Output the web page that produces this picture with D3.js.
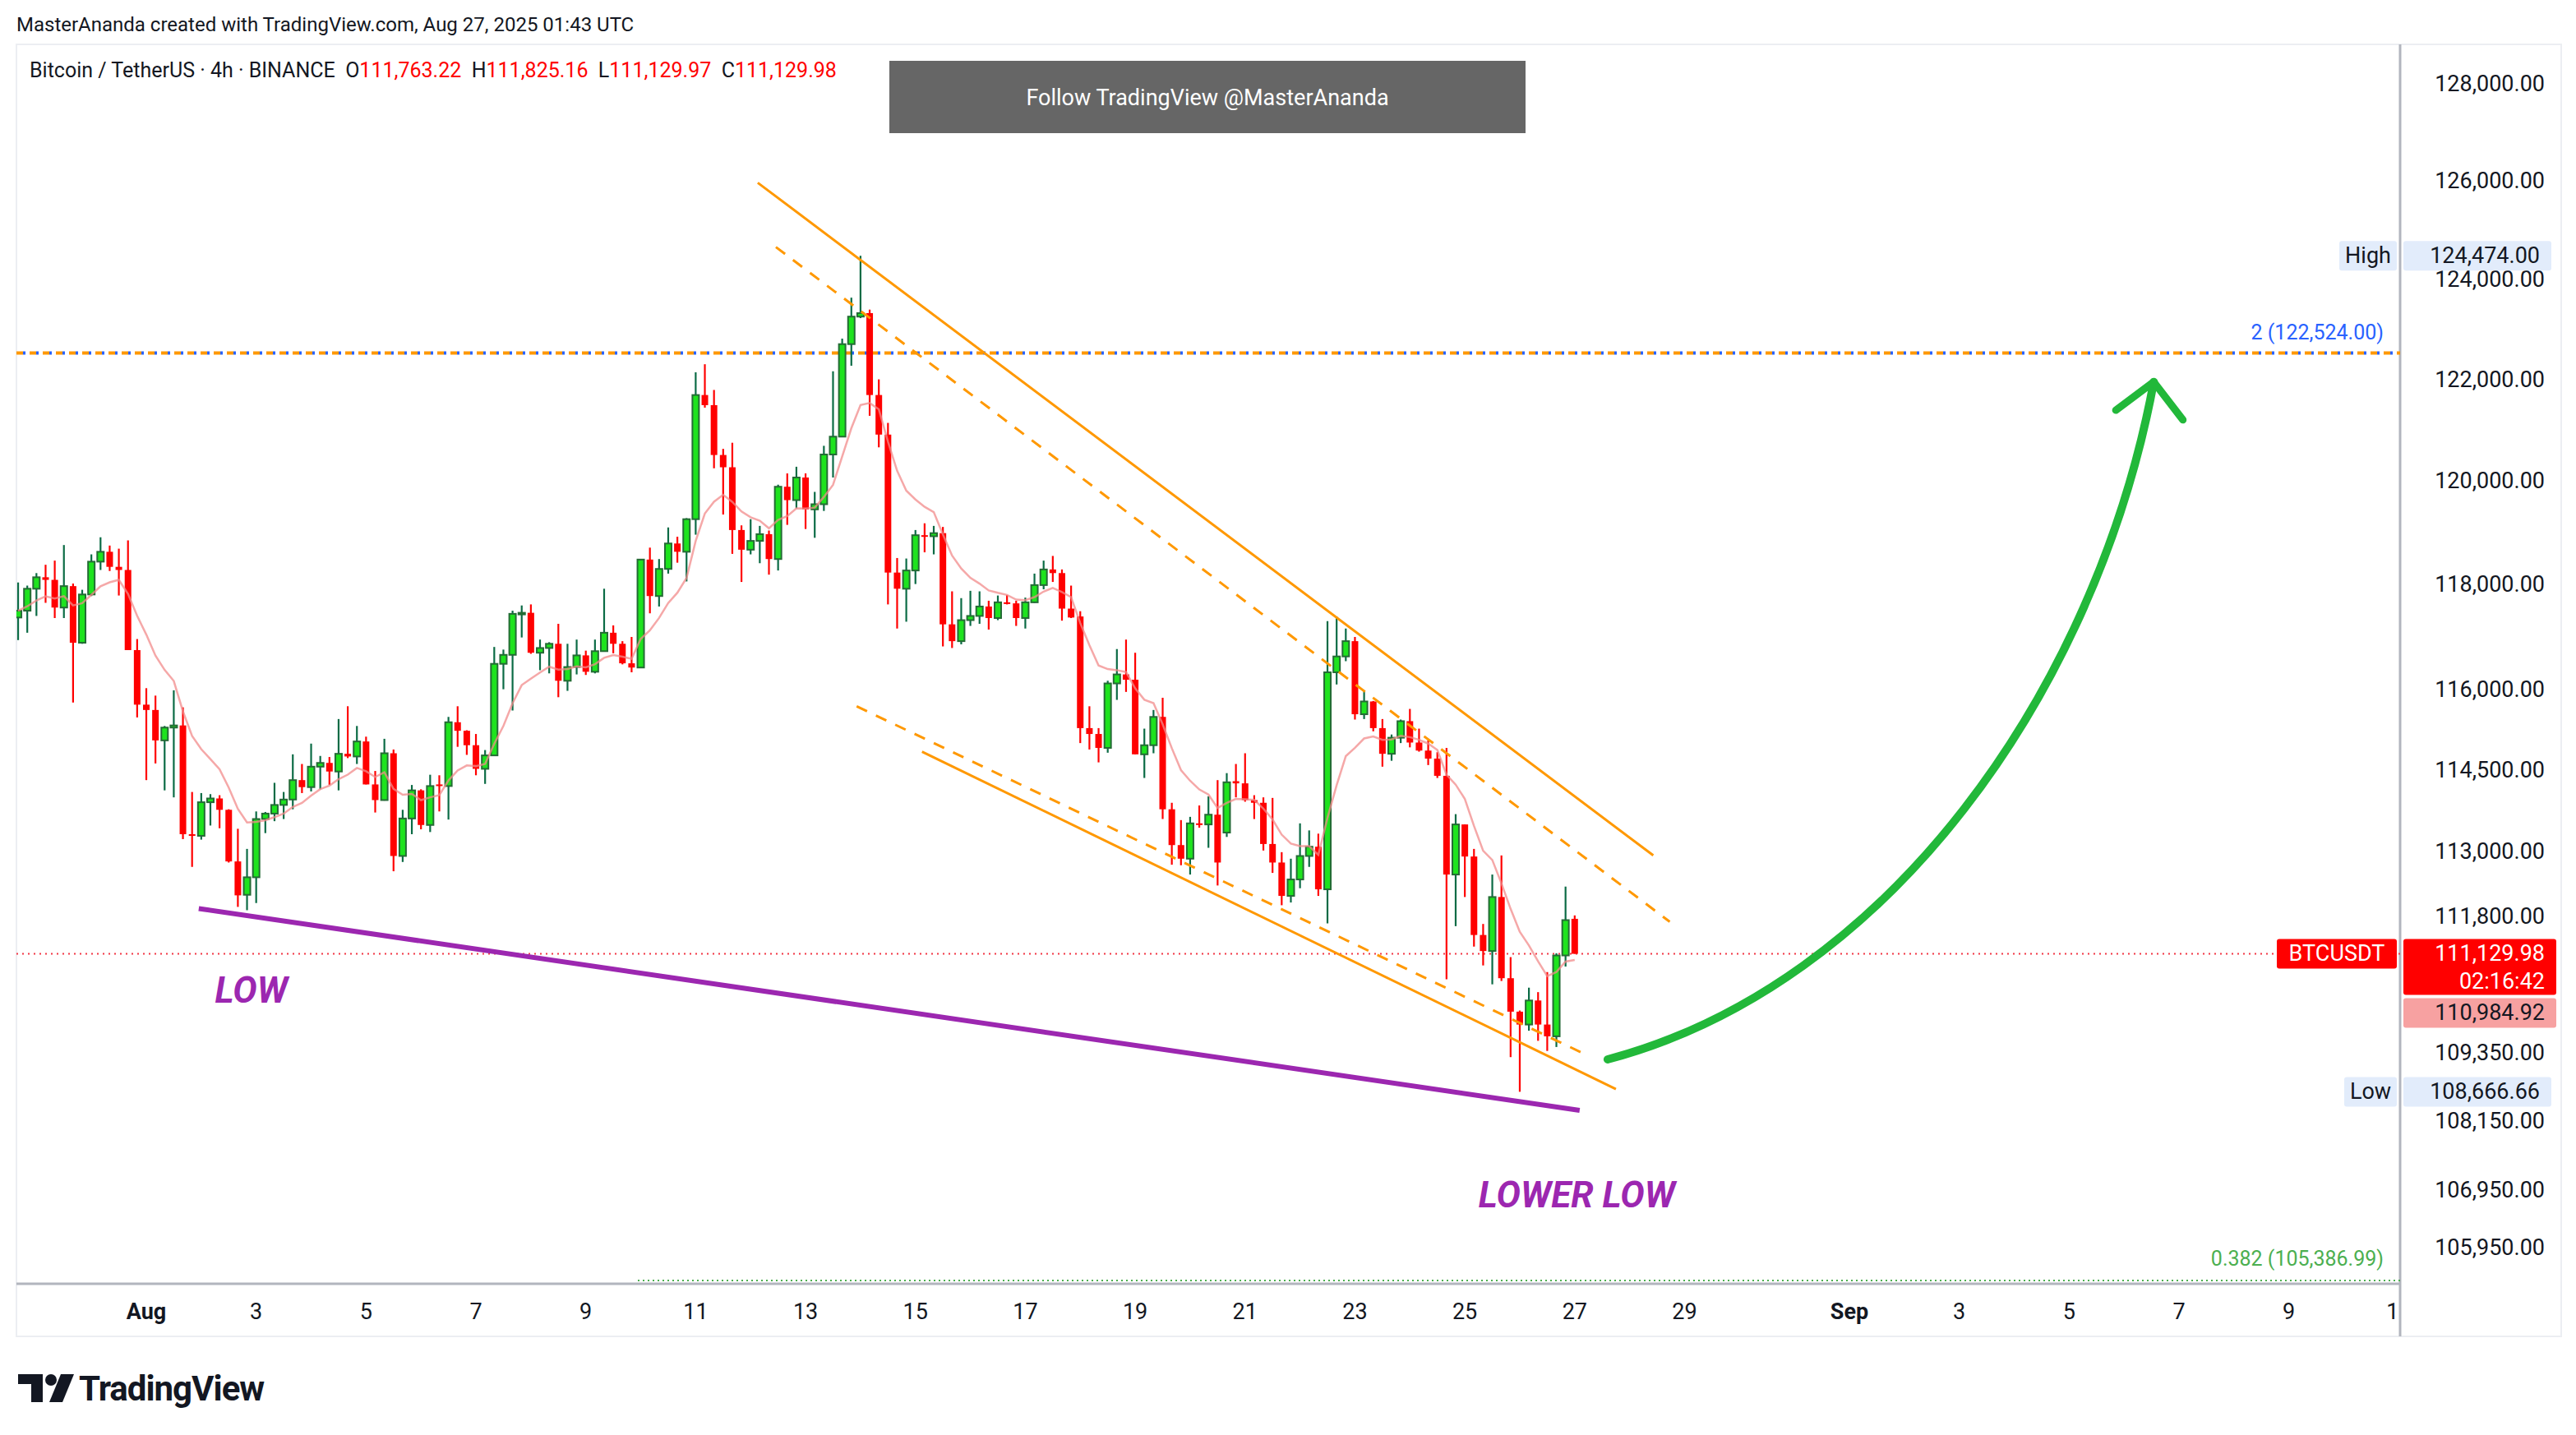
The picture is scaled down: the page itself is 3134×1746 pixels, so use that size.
<!DOCTYPE html>
<html><head><meta charset="utf-8">
<script src="https://cdn.jsdelivr.net/npm/d3@7"></script>
<style>body{margin:0;background:#fff}svg{display:block;font-family:Roboto,"Noto Sans",sans-serif}text{white-space:pre}</style>
</head><body><svg id="c" width="3134" height="1746"></svg>
<script>
// ---- data (4h candles, BINANCE BTCUSDT), candle i starts at Aug 1 + (i-15)*4h ----
const opens=[117370,117500,117920,118140,118090,117560,117970,116890,117810,118440,118630,118340,118280,116750,115720,115620,115050,115290,115330,113310,113280,113900,113970,113760,112810,112200,112520,113590,113690,113850,113950,114310,114180,114560,114630,114470,114800,114750,115030,114230,113940,114810,112910,113600,114120,113480,114230,114200,115390,115230,114960,114520,114770,116490,116660,117440,117460,116700,116790,116870,116170,116430,116650,116340,116730,117080,116870,116500,116420,118480,117780,118300,118790,118630,119260,121690,121490,120510,120270,119050,118670,118840,118970,118490,119890,119630,120070,119450,119550,120520,120870,122700,123250,123320,121690,120910,118230,117920,118270,118950,118930,118990,117240,116920,117320,117400,117580,117360,117660,117640,117360,117660,117990,118290,118220,117540,117390,115280,115170,114910,116120,116290,116190,114790,114960,115490,113770,113110,112860,113510,113490,113670,113340,114290,114250,113940,113890,113130,112790,112180,112480,112910,113080,112300,116330,116630,116920,115540,115780,115280,114800,115100,115410,115010,114860,114710,114390,112570,113490,112900,111470,111180,112160,110690,110090,109860,110290,109860,109650,111100,111763.22];
const highs=[118040,117980,118220,118380,118460,118760,118020,117900,118580,118910,118750,118690,118850,116960,116030,115890,115320,115990,115670,114090,114070,114050,114030,113770,113410,113040,113730,113720,114260,114090,114790,114610,114990,114760,114740,115450,115690,115320,115120,114480,115080,114880,113760,114220,114140,114410,114400,115490,115690,115240,115170,114870,116810,116760,117500,117600,117620,116950,116900,117250,116870,116950,116740,116950,117920,117220,116920,117000,118490,118710,118490,119100,118920,119280,122140,122300,121790,120630,120750,119140,119260,119130,119040,119930,120150,120280,120150,119790,120690,122160,122810,123630,124474,123390,122000,121140,118510,118500,119050,119180,119130,119110,117870,117740,117880,117870,117690,117790,117800,117690,117750,118210,118460,118550,118290,117980,117490,115690,115280,116170,116770,116950,116700,115270,115620,115850,113890,113570,113630,113840,114010,114310,114440,114610,114810,114030,113990,113980,112980,112860,113510,113380,113320,117300,117390,117160,117000,115990,115790,115450,115160,115440,115640,115270,115050,114830,114910,113680,113490,113040,111670,112570,112920,111070,110110,110520,110440,110800,111140,112350,111825.16];
const lows=[116940,117080,117400,117650,117360,117360,115760,116870,117780,118280,118260,117790,116750,115480,114310,114620,114120,113990,113220,112710,113210,113470,113420,112790,111980,111920,112050,113330,113550,113590,113770,114070,114100,114140,114220,114120,114720,114610,114230,113710,113930,112630,112800,113310,113400,113350,113730,113580,114930,114780,114400,114240,114760,116010,115610,116990,116680,116370,116310,115860,115980,116290,116280,116310,116720,116690,116480,116330,116420,117450,117580,118210,118420,118060,118960,121440,120250,119350,118590,118050,118580,118410,118190,118270,119150,119470,119070,118900,119420,120070,120860,122270,123220,121280,120660,117620,117160,117290,118010,118620,118580,116820,116790,116860,117210,117250,117140,117320,117620,117210,117160,117650,117910,118050,117310,117360,115000,114880,114640,114820,115810,115960,114790,114350,114810,113590,112750,112740,112570,113430,113060,112370,113260,113990,113910,113590,113010,112600,112010,112060,112320,112710,112180,111680,116100,116540,115440,115450,115220,114560,114670,115000,114920,114840,114590,114350,110670,111630,112160,111260,110920,110580,110640,109280,108666.66,109750,109570,109390,109460,110900,111129.97];
const closes=[117500,117920,118140,118090,117560,117970,116890,117810,118440,118630,118340,118280,116750,115720,115620,115050,115290,115330,113310,113280,113900,113970,113760,112810,112190,112520,113590,113690,113850,113950,114310,114180,114560,114630,114470,114800,114750,115030,114230,113940,114810,112910,113600,114120,113480,114200,114200,115390,115230,114960,114520,114770,116490,116660,117440,117460,116700,116790,116870,116170,116430,116650,116340,116730,117080,116870,116500,116420,118480,117780,118300,118790,118630,119260,121690,121490,120510,120270,119050,118670,118840,118970,118490,119890,119630,120070,119450,119550,120520,120870,122700,123250,123320,121690,120910,118230,117920,118270,118950,118930,118990,117240,116920,117320,117400,117580,117360,117660,117640,117360,117660,117990,118290,118220,117540,117370,115280,115170,114910,116120,116290,116190,114790,114960,115490,113770,113110,112860,113510,113490,113670,112790,114270,114250,113940,113890,113130,112790,112180,112480,112910,113080,112300,116330,116630,116920,115540,115780,115280,114800,115100,115410,115010,114860,114710,114390,112570,113490,112900,111470,111180,112160,110690,110090,109860,110290,109860,109650,111100,111740,111129.98];
const priceTicks=[128000,126000,124000,122000,120000,118000,116000,114500,113000,111800,109350,108150,106950,105950];
const dateTicks=[["Aug",0,true],["3",2],["5",4],["7",6],["9",8],["11",10],["13",12],["15",14],["17",16],["19",18],["21",20],["23",22],["25",24],["27",26],["29",28],["Sep",31,true],["3",33],["5",35],["7",37],["9",39],["11",41]];
const fibLevel=122524.00, fibLow=105386.99;
const lastPrice=111129.98, maLast=110984.92, hiPrice=124474.00, loPrice=108666.66;
// drawing annotations: [days from Aug 1, price]
const chanUpper=[[11.13,125960],[27.43,112920]];
const chanUpperDash=[[11.46,124650],[27.73,111710]];
const chanLowerDash=[[12.93,115690],[26.15,109350]];
const chanLower=[[14.12,114840],[26.75,108715]];
const purpleLine=[[0.955,111950],[26.09,108340]];
const arrowPath=[[26.6,109240],[31.7,110560],[35.5,115990],[36.54,121950]];
const arrowHead=[[35.85,121390],[36.54,121950],[37.07,121200]];
const lowLabel=[1.25,110250], lowerLowLabel=[24.25,106650];

const svg=d3.select("#c");
const L=20,R=2920,T=54,B=1562;
const aug1=new Date(Date.UTC(2025,7,1));
const dayT=d=>new Date(aug1.getTime()+d*864e5);
const x=d3.scaleUtc().domain([aug1,dayT(31)]).range([178,2250]);
const y=d3.scaleLog().domain([105950,128000]).range([1518,102]);
const X=d=>x(dayT(d));

// frame
svg.append("text").attr("x",20).attr("y",38).attr("font-size",24).attr("fill","#131722").text("MasterAnanda created with TradingView.com, Aug 27, 2025 01:43 UTC");
svg.append("rect").attr("x",L).attr("y",T).attr("width",3116-L).attr("height",1626-T).attr("fill","none").attr("stroke","#eceef2").attr("stroke-width",2);
svg.append("line").attr("x1",L).attr("x2",R).attr("y1",B).attr("y2",B).attr("stroke","#b2b5be").attr("stroke-width",3);
svg.append("line").attr("x1",R).attr("x2",R).attr("y1",T).attr("y2",1626).attr("stroke","#b2b5be").attr("stroke-width",3);

svg.append("defs").append("clipPath").attr("id","pane").append("rect").attr("x",L).attr("y",T).attr("width",R-L).attr("height",B-T);
const g=svg.append("g").attr("clip-path","url(#pane)");

// fib lines
g.append("line").attr("x1",L).attr("x2",R).attr("y1",y(fibLevel)).attr("y2",y(fibLevel)).attr("stroke","#ff9800").attr("stroke-width",4).attr("stroke-dasharray","8,8");
g.append("line").attr("x1",L+8).attr("x2",R).attr("y1",y(fibLevel)).attr("y2",y(fibLevel)).attr("stroke","#2962ff").attr("stroke-width",4).attr("stroke-dasharray","3,13");
g.append("text").attr("x",2900).attr("y",y(fibLevel)-16).attr("text-anchor","end").attr("font-size",25).attr("fill","#2962ff").text("2 (122,524.00)");
g.append("line").attr("x1",776).attr("x2",R).attr("y1",y(fibLow)).attr("y2",y(fibLow)).attr("stroke","#4caf50").attr("stroke-width",2).attr("stroke-dasharray","2,4");
g.append("text").attr("x",2900).attr("y",y(fibLow)-18).attr("text-anchor","end").attr("font-size",25).attr("fill","#4caf50").text("0.382 (105,386.99)");
g.append("line").attr("x1",L).attr("x2",R).attr("y1",y(lastPrice)).attr("y2",y(lastPrice)).attr("stroke","#f23645").attr("stroke-width",2).attr("stroke-dasharray","2,5");

// candles
const n=closes.length;
const idx=d3.range(n);
const cx=i=>x(new Date(aug1.getTime()+(i-14)*4*3600e3));
const up=i=>closes[i]>=opens[i];
const cg=g.append("g");
cg.selectAll("line.w").data(idx).join("line").attr("x1",cx).attr("x2",cx).attr("y1",i=>y(highs[i])).attr("y2",i=>y(lows[i]))
  .attr("stroke",i=>up(i)?"#0b6b45":"#ff0000").attr("stroke-width",2.2);
cg.selectAll("rect").data(idx).join("rect").attr("x",i=>cx(i)-4).attr("width",8)
  .attr("y",i=>y(Math.max(opens[i],closes[i]))).attr("height",i=>Math.max(2,Math.abs(y(opens[i])-y(closes[i]))))
  .attr("fill",i=>up(i)?"#1ee31e":"#ff0000").attr("stroke",i=>up(i)?"#246b35":"none").attr("stroke-width",2);

// EMA 9
const ema=[];closes.forEach((c,i)=>{ema.push(i?ema[i-1]+(c-ema[i-1])*0.2:c)});
g.append("path").datum(idx).attr("fill","none").attr("stroke","#f28b8b").attr("stroke-opacity",0.75).attr("stroke-width",2.5)
 .attr("d",d3.line().x(cx).y(i=>y(ema[i])));

// drawings
const seg=(pts,col,w,dash)=>g.append("line").attr("x1",X(pts[0][0])).attr("y1",y(pts[0][1])).attr("x2",X(pts[1][0])).attr("y2",y(pts[1][1]))
  .attr("stroke",col).attr("stroke-width",w).attr("stroke-dasharray",dash||null);
seg(chanUpper,"#ff9800",3);
seg(chanUpperDash,"#ff9800",3,"14,12");
seg(chanLowerDash,"#ff9800",3,"14,12");
seg(chanLower,"#ff9800",3);
seg(purpleLine,"#9c27b0",6);
const ap=arrowPath.map(p=>[X(p[0]),y(p[1])]);
const pp=d3.path();pp.moveTo(...ap[0]);pp.bezierCurveTo(...ap[1],...ap[2],...ap[3]);
g.append("path").attr("d",pp.toString()).attr("fill","none").attr("stroke","#22b83a").attr("stroke-width",10).attr("stroke-linecap","round");
g.append("path").attr("d",d3.line()(arrowHead.map(p=>[X(p[0]),y(p[1])]))).attr("fill","none").attr("stroke","#22b83a").attr("stroke-width",9).attr("stroke-linecap","round").attr("stroke-linejoin","round");
g.append("text").attr("x",X(lowLabel[0])).attr("y",y(lowLabel[1])).attr("font-size",44).attr("font-weight",700).attr("font-style","italic").attr("fill","#9c27b0").text("LOW");
g.append("text").attr("x",X(lowerLowLabel[0])).attr("y",y(lowerLowLabel[1])).attr("font-size",44).attr("font-weight",700).attr("font-style","italic").attr("fill","#9c27b0").text("LOWER LOW");

// legend + banner
const lg=svg.append("text").attr("x",36).attr("y",94).attr("font-size",25).attr("fill","#131722");
lg.append("tspan").text("Bitcoin / TetherUS · 4h · BINANCE  O");
lg.append("tspan").attr("fill","#ff0000").text("111,763.22");lg.append("tspan").text("  H");
lg.append("tspan").attr("fill","#ff0000").text("111,825.16");lg.append("tspan").text("  L");
lg.append("tspan").attr("fill","#ff0000").text("111,129.97");lg.append("tspan").text("  C");
lg.append("tspan").attr("fill","#ff0000").text("111,129.98");
svg.append("rect").attr("x",1082).attr("y",74).attr("width",774).attr("height",88).attr("fill","#666");
svg.append("text").attr("x",1469).attr("y",128).attr("text-anchor","middle").attr("font-size",27).attr("fill","#fff").text("Follow TradingView @MasterAnanda");

// price axis
svg.append("g").selectAll("text").data(priceTicks).join("text").attr("x",3096).attr("y",d=>y(d)+9).attr("text-anchor","end").attr("font-size",27).attr("fill","#131722").text(d3.format(",.2f"));
function badge(x0,w,cy,h,fill,lines,col,anchor){
  svg.append("rect").attr("x",x0).attr("y",cy-h/2).attr("width",w).attr("height",h).attr("rx",3).attr("fill",fill);
  lines.forEach((t,k)=>svg.append("text").attr("x",anchor==="end"?x0+w-14:x0+w/2).attr("y",cy-h/2+27+k*34).attr("text-anchor",anchor||"middle").attr("font-size",27).attr("fill",col).text(t));
}
badge(2924,180,y(hiPrice),36,"#e2ecfb",[d3.format(",.2f")(hiPrice)],"#131722","end");
badge(2846,70,y(hiPrice),36,"#e2ecfb",["High"],"#131722");
badge(2924,186,y(lastPrice)+16,68,"#ff0000",[d3.format(",.2f")(lastPrice),"02:16:42"],"#fff","end");
badge(2770,146,y(lastPrice),36,"#ff0000",["BTCUSDT"],"#fff");
badge(2924,186,y(lastPrice)+72,36,"#f7a1a1",[d3.format(",.2f")(maLast)],"#131722","end");
badge(2924,180,y(loPrice),36,"#e2ecfb",[d3.format(",.2f")(loPrice)],"#131722","end");
badge(2852,64,y(loPrice),36,"#e2ecfb",["Low"],"#131722");

// time axis
svg.append("defs").append("clipPath").attr("id","xa").append("rect").attr("x",L).attr("y",B).attr("width",R-L).attr("height",64);
svg.append("g").attr("clip-path","url(#xa)").selectAll("text").data(dateTicks).join("text").attr("x",d=>X(d[1])).attr("y",1605).attr("text-anchor","middle")
 .attr("font-size",27).attr("font-weight",d=>d[2]?700:400).attr("fill","#131722").text(d=>d[0]);

// logo
const lo=svg.append("g").attr("fill","#131722");
lo.append("path").attr("d","M22,1672 H52 V1706 H38 V1684 H22 Z");
lo.append("circle").attr("cx",62).attr("cy",1679).attr("r",7);
lo.append("path").attr("d","M74,1672 H90 L76,1706 H60 Z");
svg.append("text").attr("x",96).attr("y",1704).attr("font-size",42).attr("font-weight",700).attr("fill","#131722").attr("letter-spacing",-1).text("TradingView");
</script></body></html>
